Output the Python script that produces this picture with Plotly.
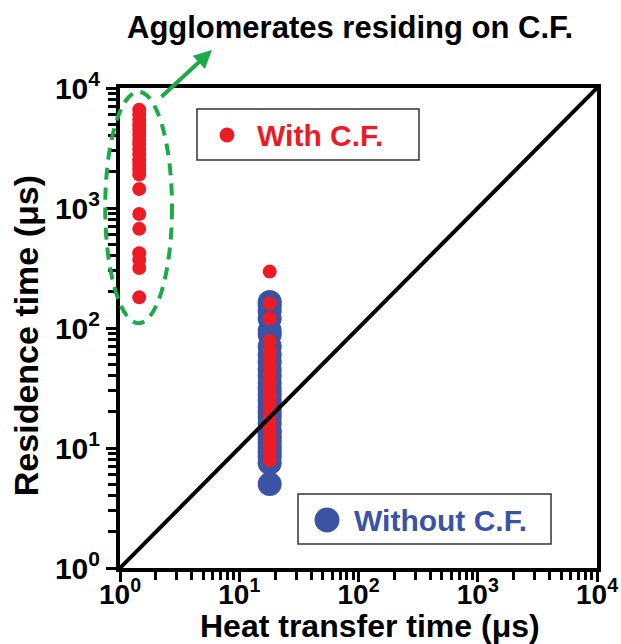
import plotly.graph_objects as go

# ---------------- data ----------------
# With C.F. : agglomerates residing on carbon fiber (left cluster)
with_cf_heat_cluster = [1.45] * 21
with_cf_res_cluster = [6600, 6000, 5400, 4900, 4500, 4100, 3700, 3400, 3100, 2800,
                       2500, 2300, 2100, 1900, 1440, 890, 670, 420, 370, 316, 180]
# With C.F. : column near heat transfer time ~18 us
with_cf_heat_col = [18] * 22
with_cf_res_col = [295, 160, 120, 78, 66, 58, 49, 42, 36, 31, 27, 24, 21, 19, 17,
                   15, 13.5, 12, 11, 10.3, 9.3, 7.9]
# Without C.F.
without_cf_heat = [18] * 28
without_cf_res = [165, 155, 140, 120, 95, 88, 70, 60, 52, 45, 40, 35, 31, 28, 25,
                  22, 20, 18, 16, 14, 13, 12, 11, 10, 9.2, 8.5, 7.5, 5.0]
# y = x reference line
diag_x = [1, 10000]
diag_y = [1, 10000]

tick_vals = [1, 10, 100, 1000, 10000]
tick_text = ["<b>10<sup>0</sup></b>", "<b>10<sup>1</sup></b>", "<b>10<sup>2</sup></b>",
             "<b>10<sup>3</sup></b>", "<b>10<sup>4</sup></b>"]
minor_vals = [m * 10 ** e for e in range(4) for m in range(2, 10)]

x_title = "<b>Heat transfer time (μs)</b>"
y_title = "<b>Residence time (μs)</b>"

RED = "#ED1C24"
BLUE = "#3A53A4"
GREEN = "#1DAA4A"
FONT = "Liberation Sans, Arial, sans-serif"

fig = go.Figure()
fig.add_trace(go.Scatter(x=diag_x, y=diag_y, mode="lines", xaxis="x2",
                         line=dict(color="black", width=4), showlegend=False))
fig.add_trace(go.Scatter(x=without_cf_heat, y=without_cf_res, mode="markers",
                         marker=dict(color=BLUE, size=24), showlegend=False))
fig.add_trace(go.Scatter(x=with_cf_heat_col + with_cf_heat_cluster,
                         y=with_cf_res_col + with_cf_res_cluster, mode="markers",
                         marker=dict(color=RED, size=14), showlegend=False))

axis_common = dict(
    type="log", range=[0, 4], showgrid=False, zeroline=False, automargin=False,
    showline=True, linecolor="black", linewidth=4, mirror=True,
    ticks="outside", ticklen=10, tickwidth=3, tickcolor="black",
    tickmode="array", tickvals=tick_vals, ticktext=tick_text,
    tickfont=dict(family=FONT, size=30, color="black"),
    minor=dict(ticks="outside", ticklen=8, tickwidth=2.5, tickcolor="black",
               tickmode="array", tickvals=minor_vals, showgrid=False),
)

fig.update_layout(
    xaxis=dict(**axis_common, showticklabels=False),
    # overlay axis carrying the x tick labels, placed closer to the axis line
    xaxis2=dict(type="log", range=[0, 4], overlaying="x", side="bottom", anchor="y",
                showgrid=False, zeroline=False, automargin=False, showline=False,
                ticks="outside", ticklen=1, tickcolor="rgba(0,0,0,0)",
                tickmode="array", tickvals=tick_vals, ticktext=tick_text,
                tickfont=dict(family=FONT, size=28, color="black")),
    yaxis=dict(**axis_common),
)

shapes = [
    # dashed ellipse around the agglomerates
    dict(type="circle", xref="paper", yref="paper", x0=-0.031, x1=0.109, y0=0.51, y1=0.992,
         line=dict(color=GREEN, width=4, dash="12px,8px")),
    # legend box: With C.F.
    dict(type="rect", xref="paper", yref="paper", x0=0.1614, x1=0.6268, y0=0.85, y1=0.956,
         line=dict(color="#333333", width=1.5), fillcolor="white", layer="below"),
    dict(type="circle", xref="paper", yref="paper", x0=0.2086, x1=0.2400, y0=0.8865, y1=0.9177,
         line=dict(width=0), fillcolor=RED),
    # legend box: Without C.F.
    dict(type="rect", xref="paper", yref="paper", x0=0.3732, x1=0.9036, y0=0.05, y1=0.1542,
         line=dict(color="#333333", width=1.5), fillcolor="white", layer="below"),
    dict(type="circle", xref="paper", yref="paper", x0=0.4078, x1=0.4602, y0=0.074, y1=0.126,
         line=dict(width=0), fillcolor=BLUE),
]

annotations = [
    dict(xref="paper", yref="paper", x=0.283, y=0.902, xanchor="left", yanchor="middle",
         text="<b>With C.F.</b>", showarrow=False,
         font=dict(family=FONT, size=30, color=RED)),
    dict(xref="paper", yref="paper", x=0.4864, y=0.1, xanchor="left", yanchor="middle",
         text="<b>Without C.F.</b>", showarrow=False,
         font=dict(family=FONT, size=30, color=BLUE)),
    dict(xref="paper", yref="paper", x=0.482, y=1.127, xanchor="center", yanchor="middle",
         text="<b>Agglomerates residing on C.F.</b>", showarrow=False,
         font=dict(family=FONT, size=31, color="black")),
    dict(xref="paper", yref="paper", x=0.1929, y=1.079, ax=-52, ay=48,
         axref="pixel", ayref="pixel", text="", showarrow=True,
         arrowhead=2, arrowsize=0.9, arrowwidth=4, arrowcolor=GREEN),
    # axis titles
    dict(xref="paper", yref="paper", x=0.524, y=-0.121, xanchor="center", yanchor="middle",
         text=x_title, showarrow=False, font=dict(family=FONT, size=32, color="black")),
    dict(xref="paper", yref="paper", x=-0.197, y=0.483, xanchor="center", yanchor="middle",
         text=y_title, textangle=-90, showarrow=False,
         font=dict(family=FONT, size=34, color="black")),
]

fig.update_layout(
    width=621, height=644,
    margin=dict(l=120, r=24, t=88, b=76),
    paper_bgcolor="white", plot_bgcolor="white",
    shapes=shapes, annotations=annotations, showlegend=False,
)

fig.write_html("out.html")
